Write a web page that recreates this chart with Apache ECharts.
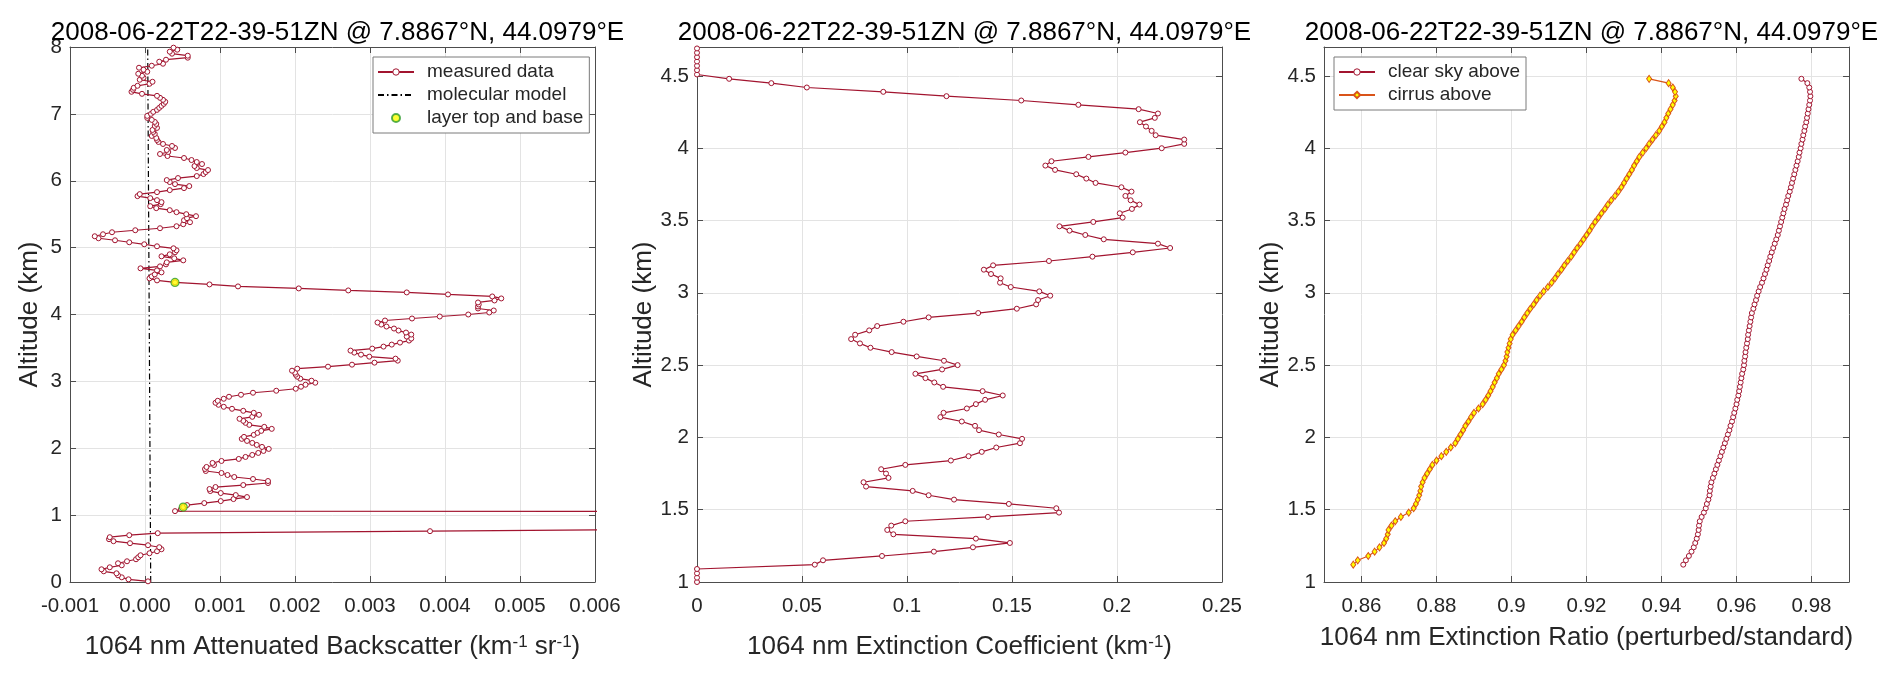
<!DOCTYPE html>
<html lang="en">
<head>
    <meta charset="utf-8">
    <title>1064 nm profiles</title>
    <script src="https://cdn.jsdelivr.net/npm/echarts@6/dist/echarts.min.js"></script>
    <style>
        html, body { margin: 0; padding: 0; background: #fff; }
        #chart { width: 1892px; height: 678px; }
    </style>
</head>
<body>
<div id="chart"></div>

<script>
    var FONT = 'Liberation Sans, Arial, Helvetica, sans-serif';
    var TITLE = '2008-06-22T22-39-51ZN @ 7.8867°N, 44.0979°E';

    // left panel: attenuated backscatter, 30 m bins
    var bsAlt = [
        0.01,0.04,0.07,0.10,0.13,0.16,0.19,0.22,0.25,0.28,
        0.31,0.34,0.37,0.40,0.43,0.46,0.49,0.52,0.55,0.58,
        0.61,0.64,0.67,0.70,0.73,0.76,0.79,0.82,0.85,0.88,
        0.91,0.94,0.97,1.00,1.03,1.06,1.09,1.12,1.15,1.18,
        1.21,1.24,1.27,1.30,1.33,1.36,1.39,1.42,1.45,1.48,
        1.51,1.54,1.57,1.60,1.63,1.66,1.69,1.72,1.75,1.78,
        1.81,1.84,1.87,1.90,1.93,1.96,1.99,2.02,2.05,2.08,
        2.11,2.14,2.17,2.20,2.23,2.26,2.29,2.32,2.35,2.38,
        2.41,2.44,2.47,2.50,2.53,2.56,2.59,2.62,2.65,2.68,
        2.71,2.74,2.77,2.80,2.83,2.86,2.89,2.92,2.95,2.98,
        3.01,3.04,3.07,3.10,3.13,3.16,3.19,3.22,3.25,3.28,
        3.31,3.34,3.37,3.40,3.43,3.46,3.49,3.52,3.55,3.58,
        3.61,3.64,3.67,3.70,3.73,3.76,3.79,3.82,3.85,3.88,
        3.91,3.94,3.97,4.00,4.03,4.06,4.09,4.12,4.15,4.18,
        4.21,4.24,4.27,4.30,4.33,4.36,4.39,4.42,4.45,4.48,
        4.51,4.54,4.57,4.60,4.63,4.66,4.69,4.72,4.75,4.78,
        4.81,4.84,4.87,4.90,4.93,4.96,4.99,5.02,5.05,5.08,
        5.11,5.14,5.17,5.20,5.23,5.26,5.29,5.32,5.35,5.38,
        5.41,5.44,5.47,5.50,5.53,5.56,5.59,5.62,5.65,5.68,
        5.71,5.74,5.77,5.80,5.83,5.86,5.89,5.92,5.95,5.98,
        6.01,6.04,6.07,6.10,6.13,6.16,6.19,6.22,6.25,6.28,
        6.31,6.34,6.37,6.40,6.43,6.46,6.49,6.52,6.55,6.58,
        6.61,6.64,6.67,6.70,6.73,6.76,6.79,6.82,6.85,6.88,
        6.91,6.94,6.97,7.00,7.03,7.06,7.09,7.12,7.15,7.18,
        7.21,7.24,7.27,7.30,7.33,7.36,7.39,7.42,7.45,7.48,
        7.51,7.54,7.57,7.60,7.63,7.66,7.69,7.72,7.75,7.78,
        7.81,7.84,7.87,7.90,7.93,7.96,7.99
    ];
    var bsVal = [
        0.00004,-0.00022,-0.00031,-0.00036,-0.00038,-0.00055,-0.00058,-0.00047,-0.00031,-0.00036,
        -0.00024,-0.00012,-0.00009,-0.00006,0.00006,0.00016,0.00022,0.00019,0.00004,-0.0002,
        -0.00042,-0.00048,-0.00047,-0.00021,0.00017,0.0038,0.0071,0.012,0.02,0.025,
        0.03,0.035,0.04,0.045,0.06,0.0004,0.00048,0.00051,0.00056,0.00079,
        0.00101,0.00118,0.00136,0.00121,0.00101,0.00087,0.00086,0.00094,0.00131,0.00164,
        0.00164,0.00144,0.00119,0.0011,0.00102,0.00081,0.0008,0.00082,0.00092,0.0009,
        0.00102,0.00125,0.00134,0.00143,0.00151,0.00158,0.00165,0.00156,0.00149,0.00143,
        0.00136,0.00129,0.00132,0.00145,0.0015,0.00155,0.00169,0.00159,0.00139,0.00134,
        0.00131,0.00126,0.00143,0.00152,0.00145,0.00131,0.00116,0.00105,0.00098,0.00094,
        0.00097,0.00105,0.00112,0.00128,0.00144,0.00175,0.00201,0.00208,0.00214,0.00227,
        0.00222,0.00207,0.00203,0.00201,0.002,0.00196,0.00203,0.00244,0.00276,0.00306,
        0.00337,0.00334,0.00299,0.00288,0.00279,0.00274,0.00303,0.00318,0.00329,0.0034,
        0.00352,0.00355,0.00349,0.00355,0.00348,0.00338,0.00332,0.00322,0.00315,0.0031,
        0.0032,0.00356,0.00393,0.00431,0.00459,0.00465,0.00444,0.00444,0.00445,0.00444,
        0.00466,0.00475,0.00463,0.00404,0.00349,0.00271,0.00205,0.00124,0.00086,0.0004,
        0.00016,0.00006,0.00009,0.00013,0.00022,0.00016,-0.00006,0.0002,0.00028,0.00029,
        0.00051,0.00039,0.00022,0.00033,0.0004,0.00042,0.00038,0.00016,-0.00001,-0.00021,
        -0.0004,-0.00062,-0.00067,-0.00056,-0.00044,-0.00013,0.0002,0.00042,0.00051,0.0006,
        0.00052,0.00056,0.00068,0.00055,0.00042,0.00033,0.00015,0.00007,0.00021,0.00022,
        0.00016,0.00007,-0.0001,-0.00007,0.00016,0.00033,0.00052,0.00059,0.0004,0.00033,
        0.00029,0.00044,0.00069,0.00078,0.00081,0.00084,0.00069,0.00066,0.00076,0.00069,
        0.00062,0.00052,0.0003,0.0002,0.00031,0.00029,0.0004,0.00036,0.00024,0.00018,
        0.00016,0.00015,0.00009,0.00013,0.00011,0.0001,0.00016,0.00013,0.00015,0.00013,
        0.00009,0.00003,0.00003,0.00008,0.00011,0.00016,0.00019,0.00022,0.00025,0.00027,
        0.00024,0.0002,0.00016,-0.00004,-0.00018,-0.00016,-0.00015,-0.0001,0.00006,0.0001,
        -0.00007,-0.00002,-0.00004,-0.00009,0.00003,-0.00002,-0.00008,0.00009,0.00024,0.00019,
        0.00028,0.00057,0.00057,0.00036,0.00033,0.00043,0.00038
    ];
    var molAlt = [0, 1, 2, 3, 4, 5, 6, 7, 8];
    var molVal = [0.000076, 0.000071, 0.000066, 0.000061, 0.000056, 0.000051, 0.000046, 0.000041, 0.000036];
    var layerAlt = [4.48, 1.12];
    var layerVal = [0.0004, 0.00051];

    // middle panel: extinction coefficient
    var extAlt = [
        1.00,1.03,1.06,1.09,1.12,1.15,1.18,1.21,1.24,1.27,
        1.30,1.33,1.36,1.39,1.42,1.45,1.48,1.51,1.54,1.57,
        1.60,1.63,1.66,1.69,1.72,1.75,1.78,1.81,1.84,1.87,
        1.90,1.93,1.96,1.99,2.02,2.05,2.08,2.11,2.14,2.17,
        2.20,2.23,2.26,2.29,2.32,2.35,2.38,2.41,2.44,2.47,
        2.50,2.53,2.56,2.59,2.62,2.65,2.68,2.71,2.74,2.77,
        2.80,2.83,2.86,2.89,2.92,2.95,2.98,3.01,3.04,3.07,
        3.10,3.13,3.16,3.19,3.22,3.25,3.28,3.31,3.34,3.37,
        3.40,3.43,3.46,3.49,3.52,3.55,3.58,3.61,3.64,3.67,
        3.70,3.73,3.76,3.79,3.82,3.85,3.88,3.91,3.94,3.97,
        4.00,4.03,4.06,4.09,4.12,4.15,4.18,4.21,4.24,4.27,
        4.30,4.33,4.36,4.39,4.42,4.45,4.48,4.51,4.54,4.57,
        4.60,4.63,4.66,4.69
    ];
    var extVal = [
        0,0,0,0,0.0561,0.06,0.0881,0.1128,0.1314,0.149,
        0.1328,0.0935,0.0906,0.0925,0.0992,0.1385,0.1724,0.1711,0.1485,0.1224,
        0.1103,0.1027,0.0805,0.0793,0.0912,0.09,0.0877,0.0992,0.1209,0.1293,
        0.1356,0.1425,0.1538,0.1548,0.1437,0.1343,0.1324,0.1261,0.1159,0.1174,
        0.1285,0.1328,0.1372,0.1456,0.136,0.1172,0.113,0.1088,0.104,0.1167,
        0.1241,0.1176,0.1046,0.0927,0.0826,0.0776,0.0734,0.0753,0.082,0.0858,
        0.0983,0.1103,0.1339,0.1523,0.1615,0.1624,0.1682,0.163,0.1494,0.1443,
        0.1446,0.14,0.1366,0.141,0.1676,0.1883,0.2075,0.2253,0.2195,0.1937,
        0.1849,0.1774,0.1726,0.1887,0.2027,0.2013,0.2071,0.2107,0.2065,0.204,
        0.2069,0.2021,0.1898,0.1854,0.1806,0.1705,0.1659,0.1688,0.1864,0.204,
        0.2213,0.232,0.232,0.2184,0.2165,0.2138,0.2109,0.218,0.2195,0.2103,
        0.1816,0.1544,0.1188,0.0887,0.0523,0.0354,0.0153,0,0,0,
        0,0,0,0
    ];

    // right panel: extinction ratio
    var ratioAlt = [
        1.12,1.15,1.18,1.21,1.24,1.27,1.30,1.33,1.36,1.39,
        1.42,1.45,1.48,1.51,1.54,1.57,1.60,1.63,1.66,1.69,
        1.72,1.75,1.78,1.81,1.84,1.87,1.90,1.93,1.96,1.99,
        2.02,2.05,2.08,2.11,2.14,2.17,2.20,2.23,2.26,2.29,
        2.32,2.35,2.38,2.41,2.44,2.47,2.50,2.53,2.56,2.59,
        2.62,2.65,2.68,2.71,2.74,2.77,2.80,2.83,2.86,2.89,
        2.92,2.95,2.98,3.01,3.04,3.07,3.10,3.13,3.16,3.19,
        3.22,3.25,3.28,3.31,3.34,3.37,3.40,3.43,3.46,3.49,
        3.52,3.55,3.58,3.61,3.64,3.67,3.70,3.73,3.76,3.79,
        3.82,3.85,3.88,3.91,3.94,3.97,4.00,4.03,4.06,4.09,
        4.12,4.15,4.18,4.21,4.24,4.27,4.30,4.33,4.36,4.39,
        4.42,4.45,4.48
    ];
    var clearVal = [
        0.9458,0.9465,0.9473,0.948,0.9486,0.949,0.9494,0.9497,0.9499,0.95,
        0.9502,0.9507,0.9513,0.9518,0.9521,0.9525,0.9528,0.9529,0.9531,0.9533,
        0.9537,0.9541,0.9545,0.9549,0.9553,0.9557,0.9561,0.9565,0.9569,0.9573,
        0.9577,0.9581,0.9584,0.9588,0.9591,0.9594,0.9597,0.96,0.9602,0.9605,
        0.9607,0.9609,0.9611,0.9613,0.9615,0.9618,0.962,0.9621,0.9623,0.9624,
        0.9626,0.9628,0.963,0.9631,0.9633,0.9635,0.9637,0.9639,0.9641,0.9645,
        0.9648,0.9652,0.9655,0.9659,0.9663,0.9668,0.9672,0.9676,0.968,0.9683,
        0.9687,0.969,0.9694,0.9698,0.9702,0.9706,0.971,0.9713,0.9716,0.9719,
        0.9722,0.9725,0.9728,0.9732,0.9735,0.9738,0.9742,0.9745,0.9748,0.9751,
        0.9754,0.9757,0.976,0.9763,0.9766,0.9768,0.9771,0.9773,0.9776,0.9778,
        0.9781,0.9783,0.9786,0.9788,0.979,0.9792,0.9794,0.9796,0.9797,0.9796,
        0.9794,0.9789,0.9773
    ];
    var cirrusVal = [
        0.8578,0.859,0.8618,0.8635,0.8648,0.866,0.8666,0.867,0.8672,0.868,
        0.869,0.8705,0.8726,0.8739,0.8745,0.875,0.8754,0.8757,0.8759,0.8763,
        0.8768,0.8775,0.8782,0.8789,0.88,0.8813,0.8826,0.8838,0.885,0.8857,
        0.8864,0.8871,0.8877,0.8885,0.8892,0.89,0.8912,0.8923,0.8931,0.8938,
        0.8944,0.895,0.8955,0.8961,0.8966,0.8973,0.898,0.8984,0.8987,0.8989,
        0.8992,0.8995,0.8998,0.9003,0.9011,0.9019,0.9027,0.9034,0.9042,0.905,
        0.9059,0.9067,0.9076,0.9086,0.9097,0.9107,0.9116,0.9124,0.9133,0.9141,
        0.915,0.9159,0.9167,0.9175,0.9184,0.9192,0.92,0.9208,0.9215,0.9223,
        0.9232,0.924,0.9249,0.9257,0.9266,0.9276,0.9285,0.9293,0.93,0.9307,
        0.9314,0.9321,0.9327,0.9334,0.9341,0.935,0.9359,0.9367,0.9376,0.9385,
        0.9394,0.9401,0.9408,0.9413,0.9418,0.9424,0.943,0.9435,0.9438,0.9436,
        0.943,0.9419,0.9367
    ];

    // tick positions
    var bsTicks = [-0.001, 0, 0.001, 0.002, 0.003, 0.004, 0.005, 0.006];
    var extTicks = [0, 0.05, 0.1, 0.15, 0.2, 0.25];
    var ratioTicks = [0.86, 0.88, 0.9, 0.92, 0.94, 0.96, 0.98];
    var altTicksHigh = [0, 1, 2, 3, 4, 5, 6, 7, 8];
    var altTicksLow = [1, 1.5, 2, 2.5, 3, 3.5, 4, 4.5];

    var CRIMSON = '#A2142F';
    var ORANGE = '#D95319';
    var AXIS = '#4d4d4d';
    var TEXT = '#262626';

    function pairs(xs, ys) {
        return xs.map(function (v, i) { return [v, ys[i]]; });
    }

    var panels = [
        { left: 70,   xMin: -0.001, xMax: 0.006, xTicks: bsTicks,    yMin: 0, yMax: 8,   yTicks: altTicksHigh,
          xName: '1064 nm Attenuated Backscatter (km{sup|-1} sr{sup|-1})', nameGap: 52,
          fmt: function (v) { return (Math.abs(v) < 1e-9 ? 0 : v).toFixed(3); } },
        { left: 697,  xMin: 0, xMax: 0.25, xTicks: extTicks,           yMin: 1, yMax: 4.7, yTicks: altTicksLow,
          xName: '1064 nm Extinction Coefficient (km{sup|-1})', nameGap: 52, fmt: null },
        { left: 1324, xMin: 0.85, xMax: 0.99, xTicks: ratioTicks,      yMin: 1, yMax: 4.7, yTicks: altTicksLow,
          xName: '1064 nm Extinction Ratio (perturbed/standard)', nameGap: 43, fmt: null }
    ];
    var W = 525, H = 535, TOP = 47;

    var grid = [], xAxis = [], yAxis = [], title = [];
    panels.forEach(function (p, i) {
        grid.push({ left: p.left, top: TOP, width: W, height: H, containLabel: false });
        title.push({
            text: TITLE, left: p.left + W / 2, top: 15, textAlign: 'center',
            textStyle: { fontSize: 26, fontWeight: 'normal', color: '#000', fontFamily: FONT }
        });
        xAxis.push({
            type: 'value', gridIndex: i, position: 'bottom', min: p.xMin, max: p.xMax,
            axisLine: { show: true, onZero: false, lineStyle: { color: AXIS, width: 1 } },
            axisTick: { show: true, inside: true, length: 6, customValues: p.xTicks, lineStyle: { color: AXIS } },
            axisLabel: { customValues: p.xTicks, color: TEXT, fontSize: 20.5, fontFamily: FONT, margin: 14,
                         formatter: p.fmt || undefined },
            splitLine: { show: true, lineStyle: { color: '#e3e3e3', width: 1 } },
            name: p.xName, nameLocation: 'middle', nameGap: p.nameGap,
            nameTextStyle: { color: TEXT, fontSize: 26, fontFamily: FONT,
                             rich: { sup: { fontSize: 17, fontFamily: FONT, color: TEXT, verticalAlign: 'top' } } }
        });
        yAxis.push({
            type: 'value', gridIndex: i, position: 'left', min: p.yMin, max: p.yMax,
            axisLine: { show: true, onZero: false, lineStyle: { color: AXIS, width: 1 } },
            axisTick: { show: true, inside: true, length: 6, customValues: p.yTicks, lineStyle: { color: AXIS } },
            axisLabel: { customValues: p.yTicks, color: TEXT, fontSize: 20.5, fontFamily: FONT, margin: 8 },
            splitLine: { show: true, lineStyle: { color: '#e3e3e3', width: 1 } },
            name: 'Altitude (km)', nameLocation: 'middle', nameGap: 27,
            nameTextStyle: { color: TEXT, fontSize: 26, fontFamily: FONT }
        });
    });
    // box: top and right axes carry only ticks
    panels.forEach(function (p, i) {
        xAxis.push({
            type: 'value', gridIndex: i, position: 'top', min: p.xMin, max: p.xMax,
            axisLine: { show: true, onZero: false, lineStyle: { color: AXIS, width: 1 } },
            axisTick: { show: true, inside: true, length: 6, customValues: p.xTicks, lineStyle: { color: AXIS } },
            axisLabel: { show: false, customValues: p.xTicks },
            splitLine: { show: false }
        });
        yAxis.push({
            type: 'value', gridIndex: i, position: 'right', min: p.yMin, max: p.yMax,
            axisLine: { show: true, onZero: false, lineStyle: { color: AXIS, width: 1 } },
            axisTick: { show: true, inside: true, length: 6, customValues: p.yTicks, lineStyle: { color: AXIS } },
            axisLabel: { show: false, customValues: p.yTicks },
            splitLine: { show: false }
        });
    });

    var openCircle = { color: '#fff', borderColor: CRIMSON, borderWidth: 1 };
    var legendBase = {
        orient: 'vertical', top: 57, selectedMode: false,
        padding: [5, 6, 5, 4], itemGap: 3, itemWidth: 36, itemHeight: 8,
        borderColor: '#7a7a7a', borderWidth: 1, backgroundColor: '#fff',
        textStyle: { fontSize: 19, fontFamily: FONT, color: TEXT, lineHeight: 20, padding: [0, 0, 0, 8] }
    };

    var chart = echarts.init(document.getElementById('chart'));
    chart.setOption({
        animation: false,
        backgroundColor: '#fff',
        title: title,
        grid: grid,
        xAxis: xAxis,
        yAxis: yAxis,
        legend: [
            Object.assign({}, legendBase, {
                left: 373,
                data: [
                    { name: 'measured data', itemStyle: { color: '#fff', borderColor: CRIMSON, borderWidth: 1 } },
                    { name: 'molecular model', itemStyle: { opacity: 0 } },
                    { name: 'layer top and base' }
                ]
            }),
            Object.assign({}, legendBase, {
                left: 1334,
                data: [
                    { name: 'clear sky above', itemStyle: { color: '#fff', borderColor: CRIMSON, borderWidth: 1 } },
                    { name: 'cirrus above' }
                ]
            })
        ],
        series: [
            {
                name: 'measured data', type: 'line', xAxisIndex: 0, yAxisIndex: 0,
                data: pairs(bsVal, bsAlt), symbol: 'circle', symbolSize: 5,
                itemStyle: openCircle, lineStyle: { color: CRIMSON, width: 1.2 }, z: 3
            },
            {
                name: 'molecular model', type: 'line', xAxisIndex: 0, yAxisIndex: 0,
                data: pairs(molVal, molAlt), symbol: 'none',
                itemStyle: { color: '#000' },
                lineStyle: { color: '#000', width: 1.2, type: [6, 3, 1.5, 3] }, z: 2
            },
            {
                name: 'layer top and base', type: 'scatter', xAxisIndex: 0, yAxisIndex: 0,
                data: pairs(layerVal, layerAlt), symbol: 'circle', symbolSize: 8,
                itemStyle: { color: '#ffff00', borderColor: '#2e9b2e', borderWidth: 1.2 }, z: 5
            },
            {
                name: 'extinction', type: 'line', xAxisIndex: 1, yAxisIndex: 1,
                data: pairs(extVal, extAlt), symbol: 'circle', symbolSize: 5,
                itemStyle: openCircle, lineStyle: { color: CRIMSON, width: 1.2 }, z: 3
            },
            {
                name: 'clear sky above', type: 'line', xAxisIndex: 2, yAxisIndex: 2,
                data: pairs(clearVal, ratioAlt), symbol: 'circle', symbolSize: 5,
                itemStyle: openCircle, lineStyle: { color: CRIMSON, width: 1.2 }, z: 3
            },
            {
                name: 'cirrus above', type: 'line', xAxisIndex: 2, yAxisIndex: 2,
                data: pairs(cirrusVal, ratioAlt), symbol: 'diamond', symbolSize: [5, 7],
                itemStyle: { color: '#ffff00', borderColor: ORANGE, borderWidth: 1 },
                lineStyle: { color: ORANGE, width: 1.2 }, z: 3
            }
        ]
    });
</script>
</body>
</html>
